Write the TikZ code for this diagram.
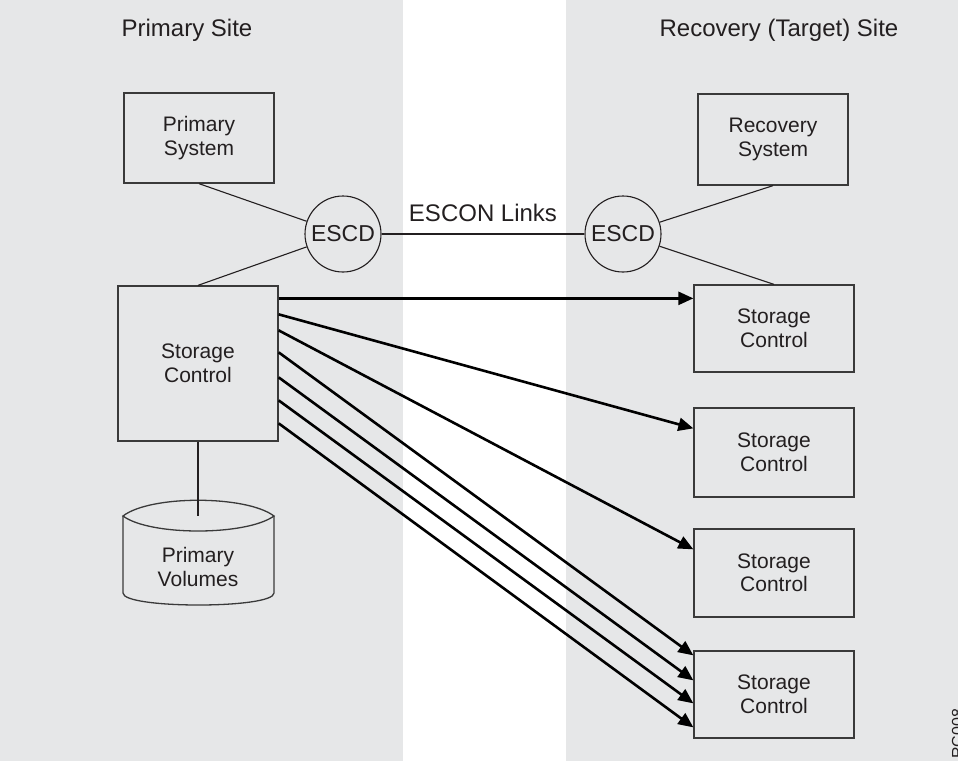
\documentclass[tikz,border=0pt]{standalone}
\usepackage{fontspec}
\setmainfont{Liberation Sans}
\usetikzlibrary{arrows.meta,calc}
\definecolor{panel}{HTML}{E6E7E8}
\definecolor{ink}{HTML}{231F20}
\definecolor{edge}{HTML}{3A3A3A}
\newcommand\lblfont{\fontsize{21}{23.5}\selectfont}
\newcommand\hdfont{\fontsize{24}{26}\selectfont}
\newcommand\hubfont{\fontsize{23}{25}\selectfont}
\begin{document}
\begin{tikzpicture}[x=1pt,y=-1pt,
  box/.style={draw=edge,line width=1.3pt,fill=panel,inner sep=0pt,align=center,font=\lblfont,text=ink},
  hub/.style={circle,draw=ink,line width=1.1pt,fill=panel,inner sep=0pt,minimum size=76pt,font=\hubfont,text=ink},
  title/.style={font=\hdfont,text=ink,inner sep=0pt},
  link/.style={draw=ink,line width=1.1pt},
  flow/.style={draw=black,line width=2.6pt,-{Triangle[length=15pt,width=13pt]}}]
\useasboundingbox (0,0) rectangle (958,761);
\fill[panel] (0,0) rectangle (403,761);
\fill[panel] (566,0) rectangle (958,761);

\node[title] (t1) at (187,30) {Primary Site};
\node[title] (t2) at (779,30) {Recovery (Target) Site};

\node[box,minimum width=150pt,minimum height=90pt] (ps) at (199,138) {Primary\\System};
\node[box,minimum width=150pt,minimum height=91pt] (rs) at (773,139.5) {Recovery\\System};
\node[box,minimum width=160pt,minimum height=155pt] (sc) at (198,363.5) {Storage\\Control};

\node[hub] (e1) at (343,234) {ESCD};
\node[hub] (e2) at (623,234) {ESCD};

\node[box,minimum width=160pt,minimum height=87pt] (r1) at (774,328.5) {Storage\\Control};
\node[box,minimum width=160pt,minimum height=89pt] (r2) at (774,452.5) {Storage\\Control};
\node[box,minimum width=160pt,minimum height=88pt] (r3) at (774,573) {Storage\\Control};
\node[box,minimum width=160pt,minimum height=87pt] (r4) at (774,694.5) {Storage\\Control};

% cylinder
\filldraw[fill=panel,draw=edge,line width=1.3pt] (123,516) -- (123,593) .. controls (123,609) and (274,609) .. (274,593) -- (274,516);
\filldraw[fill=panel,draw=edge,line width=1.3pt] (123,516) .. controls (150,495) and (246,495) .. (274,516) .. controls (246,536) and (150,536) .. (123,516) -- cycle;
\coordinate (pvtop) at (198,516);
\node[box,draw=none,fill=none] (pv) at (198,567) {Primary\\Volumes};

% links
\draw[link] (ps.south) -- (e1);
\draw[link] (sc.north) -- (e1);
\draw[link] (e1) -- node[title,above=12pt] (lbl) {ESCON Links} (e2);
\draw[link] (e2) -- (rs.south);
\draw[link] (e2) -- (r1.north);
\draw[link] (sc.south) -- (pvtop);

% replication arrows
\draw[flow] ([yshift=-13pt]sc.north east) -- ([yshift=-14pt]r1.north west);
\draw[flow] ([yshift=-29pt]sc.north east) -- ([yshift=-21pt]r2.north west);
\draw[flow] ([yshift=-45pt]sc.north east) -- ([yshift=-21pt]r3.north west);
\draw[flow] ([yshift=-67pt]sc.north east) -- ([yshift=-5pt]r4.north west);
\draw[flow] ([yshift=-92pt]sc.north east) -- ([yshift=-30pt]r4.north west);
\draw[flow] ([yshift=-115pt]sc.north east) -- ([yshift=-53pt]r4.north west);
\draw[flow] ([yshift=-138pt]sc.north east) -- ([yshift=-77pt]r4.north west);

\node[rotate=90,anchor=base west,inner sep=0pt,text=ink,font=\fontsize{16}{16}\selectfont] (fig) at (963,759) {RC008};
\end{tikzpicture}
\end{document}
